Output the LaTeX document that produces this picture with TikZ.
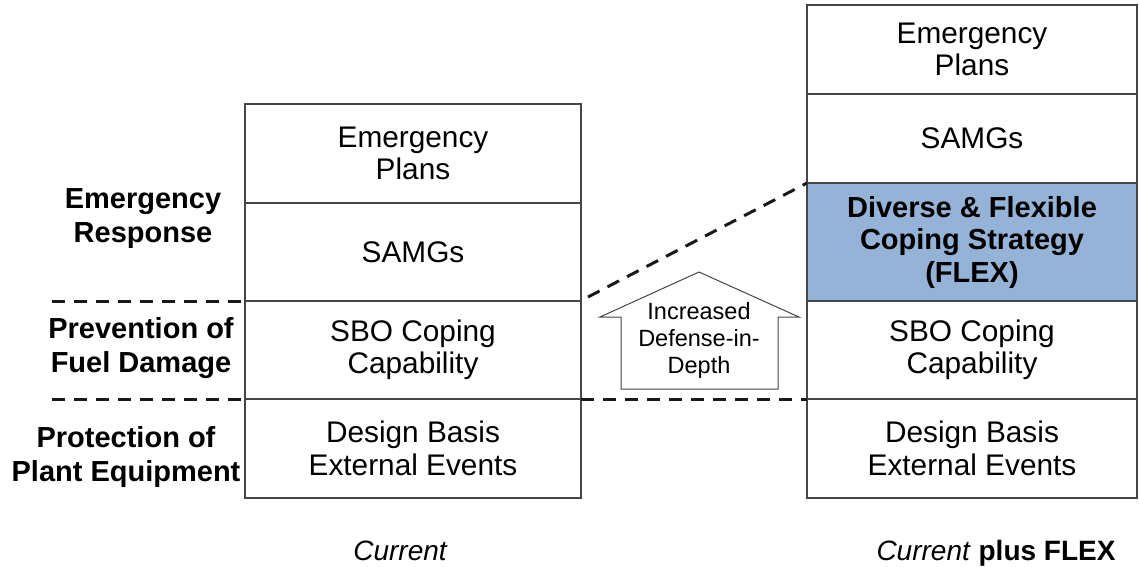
\documentclass[tikz,border=0pt]{standalone}
\usepackage{fontspec}
\setmainfont{Liberation Sans}
\definecolor{flexblue}{RGB}{149,179,215}
\definecolor{boxline}{RGB}{70,70,70}

\begin{document}
\begin{tikzpicture}[x=1pt,y=-1pt,
		layer/.style={draw=boxline,line width=1.2pt,inner sep=0pt,outer sep=0pt,align=center,font=\fontsize{29.8}{32.5}\selectfont},
		sidelabel/.style={align=center,font=\fontsize{29}{34}\selectfont\bfseries},
		level/.style={draw=black!90,line width=3pt,dash pattern=on 13pt off 9pt}]
	\useasboundingbox (0,0) rectangle (1139,566);
	% current
	\node[layer,minimum width=336pt,minimum height=99pt] (lep) at (413,153.5) {Emergency\\Plans};
	\node[layer,minimum width=336pt,minimum height=98pt] (lsamg) at (413,252) {SAMGs};
	\node[layer,minimum width=336pt,minimum height=98pt] (lsbo) at (413,350) {SBO Coping\\Capability};
	\node[layer,minimum width=336pt,minimum height=99pt] (ldb) at (413,448.5) {Design Basis\\External Events};
	% current plus flex
	\node[layer,minimum width=330pt,minimum height=89pt] (rep) at (972,49.5) {Emergency\\Plans};
	\node[layer,minimum width=330pt,minimum height=89pt] (rsamg) at (972,138.5) {SAMGs};
	\node[layer,fill=flexblue,minimum width=330pt,minimum height=118pt,font=\fontsize{29}{32.5}\selectfont\bfseries] (rflex) at (972,242) {Diverse \& Flexible\\Coping Strategy\\(FLEX)};
	\node[layer,minimum width=330pt,minimum height=98pt] (rsbo) at (972,350) {SBO Coping\\Capability};
	\node[layer,minimum width=330pt,minimum height=99pt] (rdb) at (972,448.5) {Design Basis\\External Events};
	% side labels
	\node[sidelabel] (resp) at (143,219) {Emergency\\Response};
	\node[sidelabel] (prev) at (141,348) {Prevention of\\Fuel Damage};
	\node[sidelabel] (prot) at (126,457) {Protection of\\Plant Equipment};
	% dashed levels
	\coordinate (cut1) at (52,301);
	\coordinate (cut2) at (52,399);
	\coordinate (rise) at (588,297);
	\draw[level] (cut1) -- (lsbo.north west);
	\draw[level] (cut2) -- (ldb.north west);
	\draw[level] (rise) -- (rflex.north west);
	\draw[level] (lsbo.south east) -- (rsbo.south west);
	% arrow
	\draw[boxline,line width=1pt,fill=white] (699,272) -- (799,317) -- (778,317) -- (778,389) -- (621,389) -- (621,317) -- (600,317) -- cycle;
	\node[align=center,font=\fontsize{23.5}{27}\selectfont] (gain) at (699,340) {Increased\\Defense-in-\\Depth};
	% captions
	\node[anchor=base,font=\fontsize{28}{32}\selectfont] (curlab) at (400,560) {\itshape Current};
	\node[anchor=base,font=\fontsize{28}{32}\selectfont] (flexlab) at (996,560) {\textit{Current} \textbf{plus FLEX}};
\end{tikzpicture}
\end{document}
